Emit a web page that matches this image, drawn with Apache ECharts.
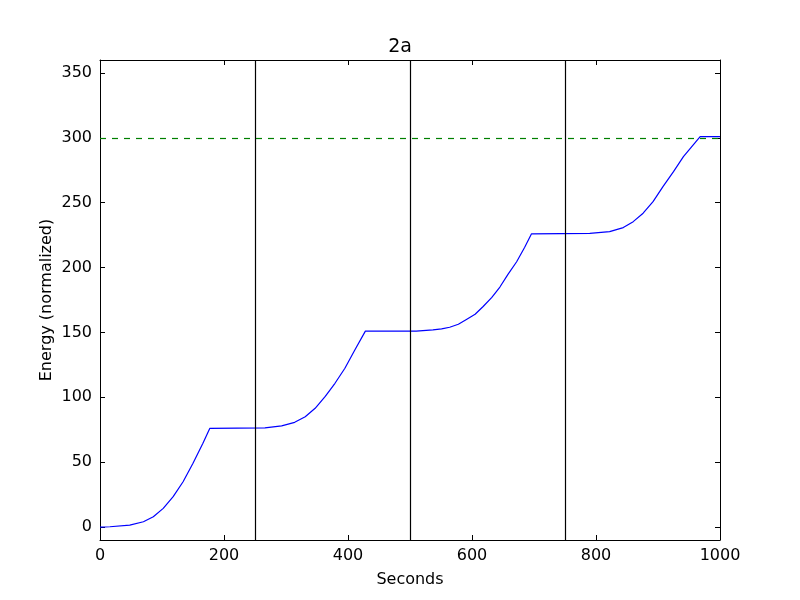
<!DOCTYPE html>
<html>
<head>
<meta charset="utf-8">
<script src="https://cdn.jsdelivr.net/npm/echarts@6/dist/echarts.min.js"></script>
<style>html,body{margin:0;padding:0;background:#fff;}#c{width:800px;height:600px;}</style>
</head>
<body>
<div id="c"></div>
<script>
// Data
const seconds = [0, 16, 48, 70, 86, 102, 118, 134, 150, 166, 177,
  266, 293, 314, 331, 347, 363, 379, 395, 411, 428,
  510, 537, 551, 564, 578, 591, 605, 618, 632, 645, 658, 672, 685, 696,
  790, 822, 844, 860, 876, 892, 908, 925, 941, 968, 1000];
const energy = [0, 0.2, 1.5, 4.1, 7.9, 14.4, 23.4, 34.9, 49.1, 64.5, 76,
  76.5, 78, 80.7, 85, 91.5, 100.5, 110.8, 122.4, 136.5, 151,
  151, 152, 152.7, 154, 156.3, 160, 164, 170, 177, 185, 194.8, 204.5, 215.7, 226,
  226.4, 227.7, 230.8, 235.4, 241.9, 250.8, 262.4, 273.9, 285.5, 301, 301];
const verticalLines = [250, 500, 750];
const targetLevel = 300;
const yTicks = [0, 50, 100, 150, 200, 250, 300, 350];
const xTicks = [0, 200, 400, 600, 800, 1000];

const font = 'DejaVu Sans';
const chart = echarts.init(document.getElementById('c'));
const axisLine = {show: true, onZero: false, lineStyle: {color: '#000', width: 1}};
const tick = {show: true, inside: true, length: 5, lineStyle: {color: '#000'}};
chart.setOption({
  animation: false,
  backgroundColor: '#fff',
  title: {text: '2a', left: 'center', top: 33, textStyle: {fontFamily: font, fontSize: 19, fontWeight: 'normal', color: '#000'}},
  grid: {left: 100, right: 80, top: 60, bottom: 60},
  xAxis: [{
    type: 'value', min: 0, max: 1000, interval: 200, position: 'bottom',
    name: 'Seconds', nameLocation: 'middle', nameGap: 32, nameMoveOverlap: false,
    nameTextStyle: {fontFamily: font, fontSize: 16, color: '#000'},
    axisLine: axisLine, axisTick: tick, splitLine: {show: false},
    axisLabel: {fontFamily: font, fontSize: 16, color: '#000', margin: 8, customValues: xTicks,
      formatter: v => String(v)}
  }, {
    type: 'value', min: 0, max: 1000, interval: 200, position: 'top',
    axisLine: axisLine, axisTick: tick, splitLine: {show: false}, axisLabel: {show: false}
  }],
  yAxis: [{
    type: 'value', min: -10, max: 360, position: 'left',
    name: 'Energy (normalized)', nameLocation: 'middle', nameGap: 45, nameMoveOverlap: false,
    nameTextStyle: {fontFamily: font, fontSize: 16, color: '#000'},
    axisLine: axisLine, axisTick: Object.assign({customValues: yTicks}, tick), splitLine: {show: false},
    axisLabel: {fontFamily: font, fontSize: 16, color: '#000', margin: 8, customValues: yTicks,
      formatter: v => String(v)}
  }, {
    type: 'value', min: -10, max: 360, position: 'right',
    axisLine: axisLine, axisTick: Object.assign({customValues: yTicks}, tick), splitLine: {show: false},
    axisLabel: {show: false, customValues: yTicks}
  }],
  series: [{
    type: 'line',
    data: seconds.map((s, i) => [s, energy[i]]),
    showSymbol: false, symbol: 'none',
    lineStyle: {color: '#0000ff', width: 1.2},
    z: 3,
    markLine: {
      silent: true, symbol: 'none', label: {show: false},
      data: verticalLines.map(v => ({xAxis: v, lineStyle: {color: '#000', width: 1.2, type: 'solid'}}))
        .concat([{yAxis: targetLevel, lineStyle: {color: '#008000', width: 1.2, type: [6, 6]}}])
    }
  }]
});
</script>
</body>
</html>
